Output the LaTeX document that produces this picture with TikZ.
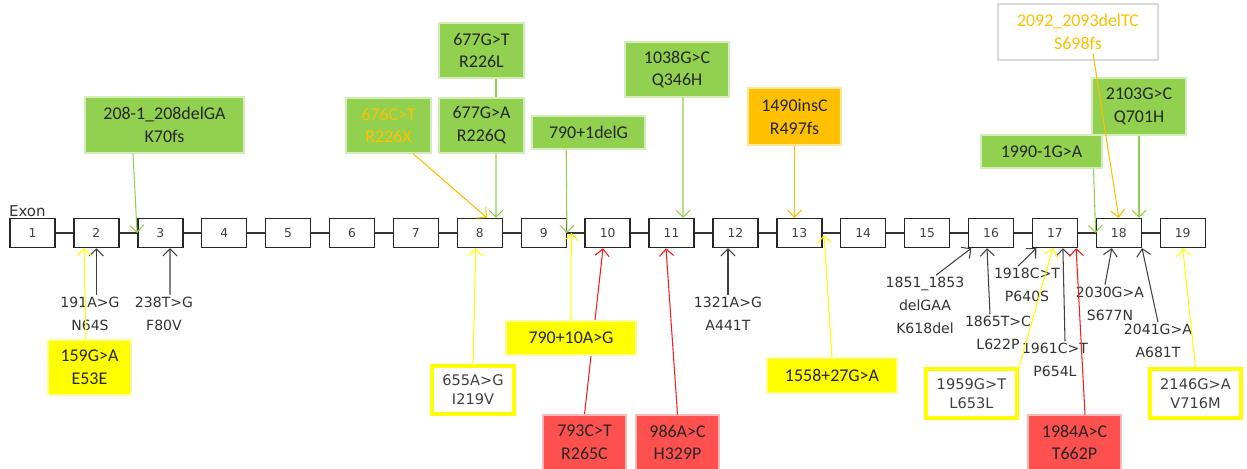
\documentclass[tikz,border=0pt]{standalone}
\usepackage{fontspec}
\setmainfont{Carlito}
\newfontfamily\tahoma{DejaVu Sans}
\usepackage{tikz}
\usetikzlibrary{arrows.meta,calc}
\definecolor{mutgreen}{HTML}{92D050}
\definecolor{mutyellow}{HTML}{FFFF00}
\definecolor{mutorange}{HTML}{FFC000}
\definecolor{mutred}{HTML}{FF5050}
\definecolor{linered}{HTML}{FF1A1A}
\pgfdeclarelayer{behind}
\pgfsetlayers{behind,main}

\begin{document}
\begin{tikzpicture}[x=0.02cm,y=-0.02cm,
  >={Straight Barb[length=4pt,width=8pt]},
  sz/.style 2 args={minimum width=#1*0.02cm,minimum height=#2*0.02cm},
  exon/.style={draw=black!85,fill=white,line width=0.8pt,sz={45}{29},inner sep=0pt,
    font=\tahoma\fontsize{7}{8}\selectfont,text=black!75},
  exline/.style={draw=black!80,line width=0.8pt},
  mut/.style={inner sep=0pt,align=center,font=\fontsize{10.2}{13}\selectfont,text=black!85},
  gbox/.style={mut,fill=mutgreen,draw=white!60!mutgreen,line width=0.6pt},
  ybox/.style={mut,fill=mutyellow,draw=white!60!mutyellow,line width=0.6pt},
  obox/.style={mut,fill=mutorange,draw=white!60!mutorange,line width=0.6pt},
  rbox/.style={mut,fill=mutred,draw=white!60!mutred,line width=0.6pt},
  wbox/.style={inner sep=0pt,align=center,fill=white,draw=mutyellow,line width=2.2pt,
    font=\tahoma\fontsize{8.3}{10.8}\selectfont,text=black!75},
  lbl/.style={inner sep=1pt,align=center,font=\tahoma\fontsize{8}{13}\selectfont,text=black!80},
  karr/.style={->,draw=black!75,line width=0.6pt},
  garr/.style={->,draw=mutgreen,line width=0.6pt},
  yarr/.style={->,draw=mutyellow,line width=0.6pt},
  oarr/.style={->,draw=mutorange,line width=0.6pt},
  rarr/.style={->,draw=linered,line width=0.6pt}]
  \useasboundingbox (0,0) rectangle (1247,468);

  % exons
  \foreach \i in {1,...,19}
    \node[exon] (e\i) at ({32.5+(\i-1)*63.9},233) {\i};
  \foreach \i [count=\j from 2] in {1,...,18}
    \draw[exline] (e\i) -- (e\j);
  \node[lbl,anchor=west,font=\tahoma\fontsize{8.5}{10}\selectfont] (exonlbl) at (7,211) {Exon};

  % mutations above
  \node[gbox,sz={159}{56}] (k70fs) at (164.5,125) {208-1\_208delGA\\K70fs};
  \node[gbox,sz={85}{55},text=mutorange] (r226x) at (388.5,125.5) {676C>T\\R226X};
  \node[gbox,sz={85}{55}] (r226l) at (481.5,50.5) {677G>T\\R226L};
  \node[gbox,sz={85}{55}] (r226q) at (481.5,125.5) {677G>A\\R226Q};
  \node[gbox,sz={113}{33}] (d790) at (588.5,132.5) {790+1delG};
  \node[gbox,sz={104}{55}] (q346h) at (677,69.5) {1038G>C\\Q346H};
  \node[obox,sz={93}{57}] (r497fs) at (794.5,116.5) {1490insC\\R497fs};
  \node[mut,draw=black!15,fill=white,line width=0.6pt,sz={160}{56},text=mutorange] (s698fs) at (1078,32) {2092\_2093delTC\\S698fs};
  \node[gbox,sz={94}{57}] (q701h) at (1139,106.5) {2103G>C\\Q701H};
  \node[gbox,sz={121}{33}] (g1990) at (1041.5,151.5) {1990-1G>A};

  % mutations below
  \node[lbl] (n64s) at (90,313.5) {191A>G\\N64S};
  \node[lbl] (f80v) at (164,313.5) {238T>G\\F80V};
  \node[ybox,sz={83}{55}] (e53e) at (89.5,367.5) {159G>A\\E53E};
  \node[wbox,sz={82}{48}] (i219v) at (473,390) {655A>G\\I219V};
  \node[ybox,sz={130}{34}] (a790) at (571,338) {790+10A>G};
  \node[rbox,sz={83}{55}] (r265c) at (584.5,442.5) {793C>T\\R265C};
  \node[rbox,sz={83}{55}] (h329p) at (677.5,442.5) {986A>C\\H329P};
  \node[lbl] (a441t) at (728,313.5) {1321A>G\\A441T};
  \node[ybox,sz={130}{35}] (g1558) at (832,375.5) {1558+27G>A};
  \node[lbl] (k618del) at (925,305.5) {1851\_1853\\delGAA\\K618del};
  \node[lbl] (l622p) at (998,333) {1865T>C\\L622P};
  \node[lbl] (p640s) at (1027,285) {1918C>T\\P640S};
  \node[lbl] (p654l) at (1055,360) {1961C>T\\P654L};
  \node[wbox,sz={91}{49}] (l653l) at (971.5,393.5) {1959G>T\\L653L};
  \node[rbox,sz={93}{55}] (t662p) at (1074.5,442.5) {1984A>C\\T662P};
  \node[lbl] (s677n) at (1110,303.5) {2030G>A\\S677N};
  \node[lbl] (a681t) at (1158,341) {2041G>A\\A681T};
  \node[wbox,sz={91}{49}] (v716m) at (1195.5,393.5) {2146G>A\\V716M};

  % arrows
  \draw[garr] ($(k70fs.south)+(-31.5,0)$) -- (e3.west);
  \draw[karr] (e2.south |- n64s.north) -- (e2.south);
  \draw[karr] ($(f80v.north)+(6,0)$) -- ($(e3.south)+(9.7,0)$);
  \draw[yarr] ($(e53e.north)+(-3.5,0)$) -- ($(e2.south)+(-12.4,0)$);
  \draw[garr,-] ($(r226l.south)+(14.5,0)$) -- ($(r226q.north)+(14.5,0)$);
  \draw[garr] ($(r226q.south)+(14.5,0)$) -- ($(e8.north)+(16.2,0)$);
  \draw[oarr] ($(r226x.south)+(24.5,0)$) -- ($(e8.north)+(7.2,0)$);
  \draw[garr] ($(d790.south)+(-22.3,0)$) -- (e9.east);
  \draw[yarr] (i219v.north) -- ($(e8.south)+(-4,0)$);
  \draw[yarr] (a790.north) -- ($(e9.east)!0.25!(e10.west)$);
  \begin{pgfonlayer}{behind}
    \draw[rarr] (r265c.north) -- ($(e10.south)+(-4.6,0)$);
  \end{pgfonlayer}
  \draw[rarr] (h329p.north) -- ($(e11.south)+(-5.5,0)$);
  \draw[karr] (a441t.north) -- (a441t.north |- e12.south);
  \draw[garr] ($(q346h.south)+(6,0)$) -- ($(e11.north)+(11.5,0)$);
  \draw[oarr] (r497fs.south) -- (r497fs.south |- e13.north);
  \draw[yarr] (g1558.north) -- ($(e13.east)+(1.5,2)$);
  \draw[karr] ($(k618del.north)+(11,0)$) -- ($(e16.south west)+(3.5,0)$);
  \draw[karr] ($(l622p.north)+(-8,0)$) -- ($(e16.south)+(-4,0)$);
  \draw[karr] ($(p640s.north)+(-9,0)$) -- ($(e17.south west)+(4.6,0)$);
  \draw[karr] ($(p654l.north)+(10,0)$) -- ($(e17.south)+(8,0)$);
  \draw[yarr] (l653l.north east) -- ($(e17.south)+(-2,0)$);
  \draw[rarr] ($(t662p.north)+(10.5,0)$) -- ($(e17.south east)+(-2,0)$);
  \draw[karr] ($(s677n.north)+(-5,0)$) -- ($(e18.south)+(-7,0)$);
  \draw[karr] (a681t.north) -- (e18.south east);
  \draw[yarr] (v716m.north) -- (e19.south);
  \draw[garr] (q701h.south) -- (q701h.south |- e18.north);
  \draw[garr] ($(g1990.south east)+(-9,0)$) -- (e18.west);
  \draw[oarr] ($(s698fs.south)+(15,-7)$) -- (e18.north);
\end{tikzpicture}
\end{document}
